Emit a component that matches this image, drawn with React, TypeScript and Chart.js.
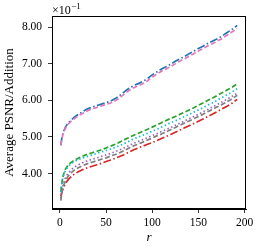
import React, { useEffect, useRef } from "react";
import { Chart, registerables } from "chart.js";

Chart.register(...registerables);

const R = [1, 2, 3, 4, 6, 8, 10, 13, 16, 20, 25, 30, 35, 40, 45, 50, 55, 60, 64, 68, 72, 76, 80, 85, 90, 95, 100, 105, 110, 115, 120, 125, 130, 135, 140, 145, 150, 155, 160, 165, 170, 175, 180, 185, 192];

const BLUE = [4.77, 4.95, 5.07, 5.15, 5.27, 5.35, 5.41, 5.48, 5.55, 5.62, 5.7, 5.77, 5.82, 5.86, 5.9, 5.94, 5.98, 6.05, 6.12, 6.2, 6.28, 6.35, 6.41, 6.46, 6.52, 6.6, 6.7, 6.78, 6.86, 6.92, 6.99, 7.07, 7.14, 7.2, 7.28, 7.35, 7.42, 7.48, 7.56, 7.62, 7.68, 7.75, 7.84, 7.92, 8.05];
const GREEN = [3.5, 3.72, 3.88, 3.98, 4.12, 4.2, 4.26, 4.32, 4.37, 4.42, 4.48, 4.53, 4.57, 4.61, 4.65, 4.7, 4.75, 4.8, 4.85, 4.9, 4.95, 5.0, 5.05, 5.1, 5.16, 5.21, 5.27, 5.33, 5.39, 5.45, 5.51, 5.56, 5.62, 5.68, 5.74, 5.8, 5.87, 5.93, 6.0, 6.06, 6.13, 6.2, 6.27, 6.34, 6.45];
const RED = [3.38, 3.48, 3.56, 3.62, 3.72, 3.8, 3.86, 3.93, 3.99, 4.05, 4.11, 4.16, 4.2, 4.24, 4.28, 4.33, 4.37, 4.42, 4.46, 4.5, 4.55, 4.6, 4.65, 4.7, 4.75, 4.8, 4.85, 4.9, 4.96, 5.01, 5.07, 5.13, 5.19, 5.25, 5.31, 5.37, 5.43, 5.49, 5.56, 5.62, 5.69, 5.76, 5.83, 5.9, 6.03];
const PURPLE = [3.32, 3.5, 3.64, 3.74, 3.88, 3.97, 4.04, 4.12, 4.18, 4.24, 4.3, 4.35, 4.39, 4.43, 4.47, 4.51, 4.55, 4.6, 4.64, 4.68, 4.73, 4.78, 4.83, 4.88, 4.93, 4.98, 5.04, 5.09, 5.15, 5.2, 5.26, 5.32, 5.38, 5.44, 5.5, 5.56, 5.62, 5.69, 5.75, 5.82, 5.88, 5.95, 6.02, 6.09, 6.2];
const PINK = [4.77, 4.93, 5.04, 5.12, 5.24, 5.32, 5.38, 5.45, 5.51, 5.58, 5.65, 5.72, 5.77, 5.81, 5.85, 5.89, 5.93, 5.99, 6.06, 6.14, 6.22, 6.29, 6.35, 6.4, 6.46, 6.54, 6.64, 6.72, 6.8, 6.86, 6.93, 7.0, 7.08, 7.14, 7.21, 7.28, 7.35, 7.42, 7.49, 7.55, 7.62, 7.68, 7.77, 7.85, 7.97];
const GREY = [3.26, 3.45, 3.58, 3.67, 3.8, 3.89, 3.96, 4.04, 4.1, 4.16, 4.22, 4.27, 4.31, 4.35, 4.39, 4.43, 4.48, 4.52, 4.56, 4.61, 4.66, 4.71, 4.76, 4.81, 4.86, 4.92, 4.97, 5.03, 5.08, 5.14, 5.2, 5.26, 5.32, 5.38, 5.44, 5.5, 5.56, 5.62, 5.69, 5.75, 5.82, 5.88, 5.95, 6.02, 6.14];
const CYAN = [3.5, 3.7, 3.85, 3.95, 4.08, 4.16, 4.22, 4.28, 4.33, 4.38, 4.43, 4.47, 4.51, 4.55, 4.59, 4.63, 4.67, 4.72, 4.76, 4.8, 4.85, 4.9, 4.95, 5.0, 5.05, 5.1, 5.16, 5.21, 5.27, 5.33, 5.39, 5.44, 5.5, 5.56, 5.62, 5.68, 5.74, 5.8, 5.87, 5.93, 6.0, 6.07, 6.14, 6.21, 6.32];

const X_TICKS = [0, 50, 100, 150, 200];
const Y_TICKS = [4, 5, 6, 7, 8];

const FONT = "'Liberation Serif', 'DejaVu Serif', serif";

const DASHED = [5, 2.5];
const DASHDOT = [8, 2.5, 1.5, 2.5];
const DOTTED = [1.5, 2.5];

const SERIES = [
  { name: "blue", data: BLUE, color: "#1f77b4", dash: DASHDOT },
  { name: "green", data: GREEN, color: "#2ca02c", dash: DASHED },
  { name: "red", data: RED, color: "#d62728", dash: DASHDOT },
  { name: "purple", data: PURPLE, color: "#9467bd", dash: DOTTED },
  { name: "pink", data: PINK, color: "#e377c2", dash: DASHED },
  { name: "grey", data: GREY, color: "#7f7f7f", dash: DASHED },
  { name: "cyan", data: CYAN, color: "#17becf", dash: DOTTED },
];

const framePlugin = {
  id: "frame",
  afterDraw(chart: any) {
    const { ctx, chartArea } = chart;
    const { left, right, top, bottom } = chartArea;
    ctx.save();
    ctx.strokeStyle = "#000";
    ctx.lineWidth = 1;
    ctx.setLineDash([]);
    ctx.strokeRect(left + 0.5, top + 0.5, right - left - 1, bottom - top - 1);
    ctx.fillStyle = "#000";
    // offset text
    ctx.textAlign = "left";
    ctx.textBaseline = "alphabetic";
    ctx.font = `12px ${FONT}`;
    const base = "×10";
    ctx.fillText(base, left, 13.5);
    const w = ctx.measureText(base).width;
    ctx.font = `9px ${FONT}`;
    ctx.fillText("−1", left + w + 0.5, 8.5);
    // x label
    ctx.font = `italic 13px ${FONT}`;
    ctx.textAlign = "center";
    ctx.textBaseline = "middle";
    ctx.fillText("r", (left + right) / 2, 238);
    // y label
    ctx.translate(10, (top + bottom) / 2);
    ctx.rotate(-Math.PI / 2);
    ctx.font = `13px ${FONT}`;
    ctx.fillText("Average PSNR/Addition", 0, 0);
    ctx.restore();
  },
};

export default function App() {
  const ref = useRef<HTMLCanvasElement | null>(null);
  useEffect(() => {
    document.body.style.margin = "0";
    const canvas = ref.current;
    if (!canvas) return;
    const n = SERIES.length;
    const chart = new Chart(canvas, {
      type: "line",
      data: {
        datasets: SERIES.map((s, i) => ({
          label: s.name,
          data: R.map((r, j) => ({ x: r, y: s.data[j] })),
          borderColor: s.color,
          backgroundColor: s.color,
          borderDash: s.dash,
          borderWidth: 1.7,
          pointRadius: 0,
          fill: false,
          tension: 0,
          order: n - i,
        })),
      },
      options: {
        responsive: false,
        animation: false,
        devicePixelRatio: 1,
        layout: { padding: { left: 0, right: 13, top: 16, bottom: 0 } },
        plugins: { legend: { display: false }, tooltip: { enabled: false } },
        scales: {
          x: {
            type: "linear",
            min: -8.55,
            max: 201.55,
            afterBuildTicks: (s: any) => {
              s.ticks = X_TICKS.map((v) => ({ value: v }));
            },
            afterFit: (s: any) => {
              s.height = 40;
            },
            ticks: {
              color: "#000",
              font: { family: FONT, size: 11.5 },
              padding: 3,
              maxRotation: 0,
              callback: (v: any) => String(v),
            },
            grid: {
              drawOnChartArea: false,
              drawTicks: true,
              tickLength: 4,
              color: "#000",
              lineWidth: 0.8,
            },
            border: { display: true, color: "#000", width: 1 },
          },
          y: {
            type: "linear",
            min: 3.03,
            max: 8.31,
            afterBuildTicks: (s: any) => {
              s.ticks = Y_TICKS.map((v) => ({ value: v }));
            },
            afterFit: (s: any) => {
              s.width = 52;
            },
            ticks: {
              color: "#000",
              font: { family: FONT, size: 11.5 },
              padding: 6,
              callback: (v: any) => Number(v).toFixed(2),
            },
            grid: {
              drawOnChartArea: false,
              drawTicks: true,
              tickLength: 4,
              color: "#000",
              lineWidth: 0.8,
            },
            border: { display: true, color: "#000", width: 1 },
          },
        },
      },
      plugins: [framePlugin],
    });
    return () => chart.destroy();
  }, []);
  return (
    <div style={{ position: "absolute", left: 0, top: 0, width: 259, height: 249 }}>
      <canvas ref={ref} width={259} height={249} style={{ display: "block" }} />
    </div>
  );
}
